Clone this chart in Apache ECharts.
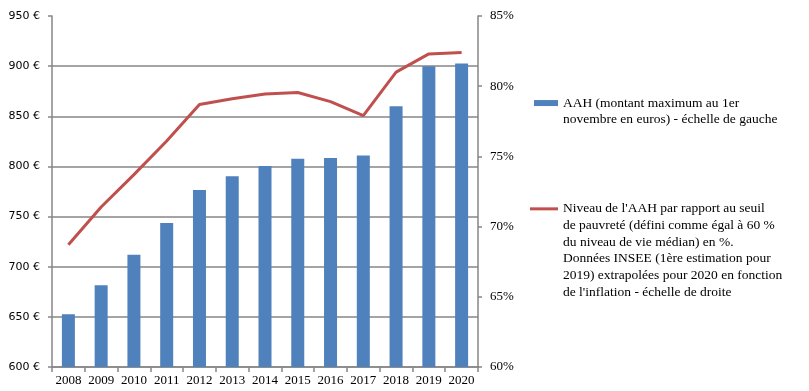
<!DOCTYPE html>
<html><head><meta charset="utf-8">
<script src="https://cdn.jsdelivr.net/npm/echarts@6/dist/echarts.min.js"></script>
<style>html,body{margin:0;padding:0;background:#fff}#c{width:809px;height:391px}</style>
</head><body><div id="c"></div>
<script>
const years = ['2008','2009','2010','2011','2012','2013','2014','2015','2016','2017','2018','2019','2020'];
const aahValues = [652.6, 681.63, 711.95, 743.62, 776.59, 790.18, 800.45, 807.65, 808.46, 810.89, 860, 900, 902.7];
const ratioValues = [68.7, 71.4, 73.7, 76.1, 78.7, 79.1, 79.45, 79.55, 78.9, 77.9, 81.0, 82.3, 82.4];
const aahName = 'AAH (montant maximum au 1er\nnovembre en euros) - échelle de gauche';
const ratioName = "Niveau de l'AAH par rapport au seuil\nde pauvreté (défini comme égal à 60 %\ndu niveau de vie médian) en %.\nDonnées INSEE (1ère estimation pour\n2019) extrapolées pour 2020 en fonction\nde l'inflation - échelle de droite";

const gray = '#868686';
const serif = '"Liberation Serif", serif';
const LH = 16.7;
// prepend blank lines so the icon lines up with the first text line
const topAlign = name => '\n'.repeat(name.split('\n').length - 1) + name;
const chart = echarts.init(document.getElementById('c'));
chart.setOption({
  animation: false,
  grid: {left: 52, right: 331, top: 16, bottom: 24},
  legend: [{
    left: 534, top: 78, padding: 0, orient: 'vertical',
    itemWidth: 24, itemHeight: 6,
    data: [{name: aahName, icon: 'rect'}],
    formatter: topAlign,
    textStyle: {fontFamily: serif, fontSize: 13.5, color: '#000', lineHeight: LH}
  }, {
    left: 530, top: 117, padding: 0, orient: 'vertical',
    itemWidth: 28, itemHeight: 3,
    data: [{name: ratioName, icon: 'rect', itemStyle: {color: '#c0504d'}}],
    formatter: topAlign,
    textStyle: {fontFamily: serif, fontSize: 13.5, color: '#000', lineHeight: LH}
  }],
  xAxis: {
    type: 'category', data: years, boundaryGap: true,
    axisLine: {lineStyle: {color: gray, width: 1.5}},
    axisTick: {show: true, length: 5, lineStyle: {color: gray, width: 1.5}},
    axisLabel: {interval: 0, fontFamily: serif, fontSize: 13, color: '#000', margin: 7}
  },
  yAxis: [{
    type: 'value', min: 600, max: 950, interval: 50, position: 'left',
    axisLine: {show: true, lineStyle: {color: gray, width: 1.5}},
    axisTick: {show: true, length: 4, lineStyle: {color: gray, width: 1.5}},
    axisLabel: {formatter: '{value} €', fontFamily: '"DejaVu Sans", sans-serif', fontSize: 11, color: '#000', margin: 12},
    splitLine: {show: true, showMaxLine: false, lineStyle: {color: gray, width: 1.5}}
  }, {
    type: 'value', min: 60, max: 85, interval: 5, position: 'right',
    axisLine: {show: true, lineStyle: {color: gray, width: 1.5}},
    axisTick: {show: true, length: 4, lineStyle: {color: gray, width: 1.5}},
    axisLabel: {formatter: '{value}%', fontFamily: serif, fontSize: 13, color: '#000', margin: 12},
    splitLine: {show: false}
  }],
  series: [{
    name: aahName, type: 'bar', data: aahValues, yAxisIndex: 0,
    barWidth: 13, itemStyle: {color: '#4f81bd'}
  }, {
    name: ratioName, type: 'line', data: ratioValues, yAxisIndex: 1,
    symbol: 'none', showSymbol: false,
    lineStyle: {color: '#c0504d', width: 3}, itemStyle: {color: '#c0504d'}
  }]
});
</script></body></html>
